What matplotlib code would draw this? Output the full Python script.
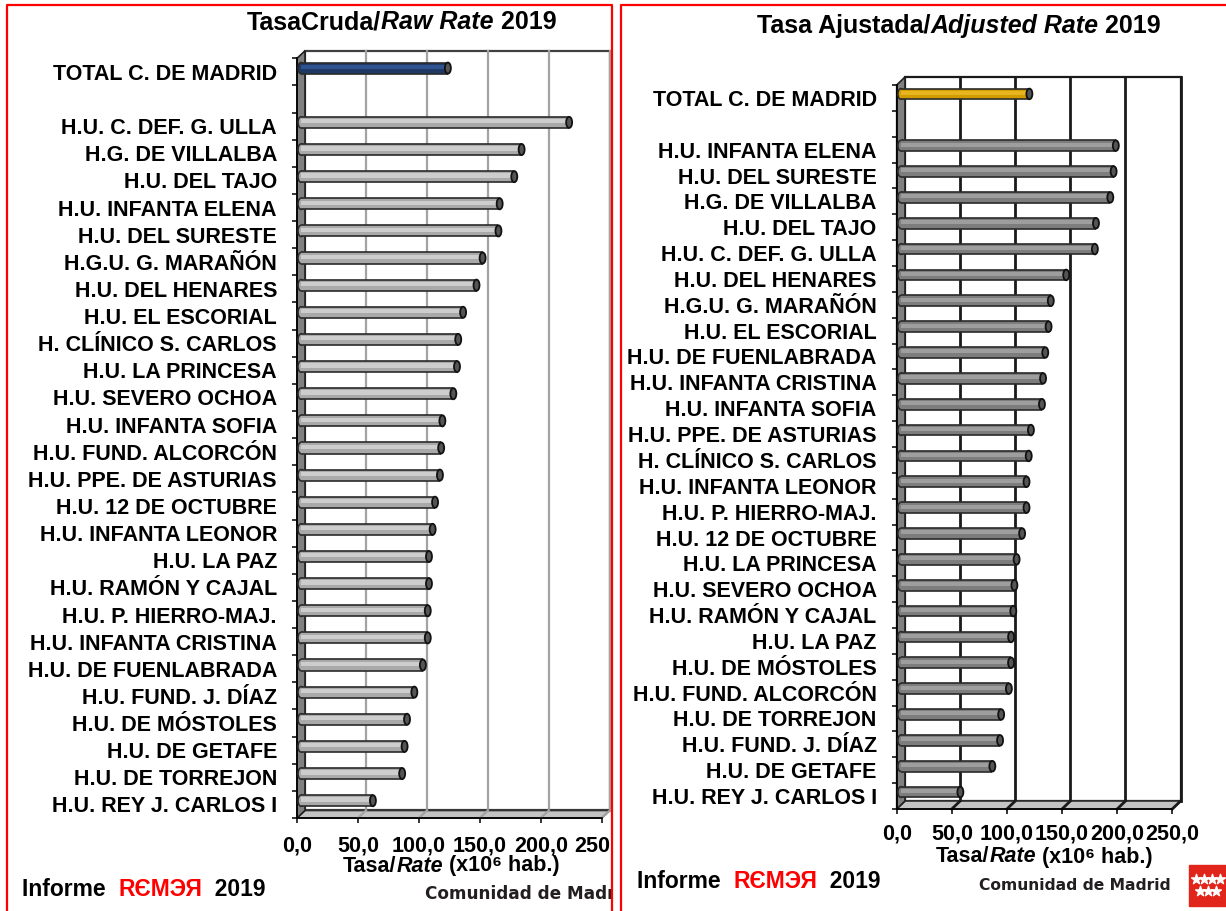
import numpy as np
import matplotlib
matplotlib.use("Agg")
import matplotlib.pyplot as plt
from matplotlib.patches import Rectangle, Polygon, Ellipse
from matplotlib.lines import Line2D
from matplotlib.transforms import Bbox, TransformedBbox

# Data (rate x10^6 inhabitants)
raw_labels = ["H.U. C. DEF. G. ULLA", "H.G. DE VILLALBA", "H.U. DEL TAJO", "H.U. INFANTA ELENA",
              "H.U. DEL SURESTE", "H.G.U. G. MARAÑÓN", "H.U. DEL HENARES", "H.U. EL ESCORIAL",
              "H. CLÍNICO S. CARLOS", "H.U. LA PRINCESA", "H.U. SEVERO OCHOA", "H.U. INFANTA SOFIA",
              "H.U. FUND. ALCORCÓN", "H.U. PPE. DE ASTURIAS", "H.U. 12 DE OCTUBRE", "H.U. INFANTA LEONOR",
              "H.U. LA PAZ", "H.U. RAMÓN Y CAJAL", "H.U. P. HIERRO-MAJ.", "H.U. INFANTA CRISTINA",
              "H.U. DE FUENLABRADA", "H.U. FUND. J. DÍAZ", "H.U. DE MÓSTOLES", "H.U. DE GETAFE",
              "H.U. DE TORREJON", "H.U. REY J. CARLOS I"]
raw_values = [220, 181, 175, 163, 162, 149, 144, 133, 129, 128, 125, 116, 115, 114, 110, 108,
              105, 105, 104, 104, 100, 93, 87, 85, 83, 59]
raw_total = 120.5

adj_labels = ["H.U. INFANTA ELENA", "H.U. DEL SURESTE", "H.G. DE VILLALBA", "H.U. DEL TAJO",
              "H.U. C. DEF. G. ULLA", "H.U. DEL HENARES", "H.G.U. G. MARAÑÓN", "H.U. EL ESCORIAL",
              "H.U. DE FUENLABRADA", "H.U. INFANTA CRISTINA", "H.U. INFANTA SOFIA", "H.U. PPE. DE ASTURIAS",
              "H. CLÍNICO S. CARLOS", "H.U. INFANTA LEONOR", "H.U. P. HIERRO-MAJ.", "H.U. 12 DE OCTUBRE",
              "H.U. LA PRINCESA", "H.U. SEVERO OCHOA", "H.U. RAMÓN Y CAJAL", "H.U. LA PAZ",
              "H.U. DE MÓSTOLES", "H.U. FUND. ALCORCÓN", "H.U. DE TORREJON", "H.U. FUND. J. DÍAZ",
              "H.U. DE GETAFE", "H.U. REY J. CARLOS I"]
adj_values = [195, 193, 190, 177, 176, 150, 136, 134, 131, 129, 128, 118, 116, 114, 114, 110,
              105, 103, 102, 100, 100, 98, 91, 90, 83, 54]
adj_total = 116.6

total_label = "TOTAL C. DE MADRID"
xticks = [0, 50, 100, 150, 200, 250]
xtick_labels = ["0,0", "50,0", "100,0", "150,0", "200,0", "250,0"]

W, H = 1226, 911
plt.rcParams['font.family'] = ['Liberation Sans', 'DejaVu Sans']
plt.rcParams['font.weight'] = 'bold'

fig = plt.figure(figsize=(W / 100, H / 100), dpi=100)


def fig_rect(l, t, r, b):
    return [l / W, 1 - b / H, (r - l) / W, (b - t) / H]


# full-figure layer for free text (pixel coordinates)
bg = fig.add_axes([0, 0, 1, 1])
bg.set_xlim(0, W)
bg.set_ylim(H, 0)
bg.axis('off')

left_clip = TransformedBbox(Bbox([[7 / W, 0], [612 / W, 1]]), fig.transFigure)


def draw_panel(rect, depth, labels, values, total, total_cols, bar_cols, grid_col, grid_lw,
               wall_edge, floor_col, tick_pad, clip=None):
    ax = fig.add_axes(fig_rect(*rect))
    ax.patch.set_visible(False)
    n = len(labels) + 2
    ax.set_xlim(0, 250)
    ax.set_ylim(n, 0)

    px_x = (rect[2] - rect[0]) / 250
    px_y = (rect[3] - rect[1]) / n
    dx = depth[0] / px_x
    dy = depth[1] / px_y

    # back wall, grid, floor, side wall
    ax.add_patch(Rectangle((dx, -dy), 250, n, facecolor='white', edgecolor=wall_edge,
                           lw=1.6, zorder=0.5))
    for v in xticks[1:]:
        ax.plot([v + dx, v + dx], [-dy, n - dy], color=grid_col, lw=grid_lw, zorder=0.6)
    ax.add_patch(Polygon([(0, n), (250, n), (250 + dx, n - dy), (dx, n - dy)],
                         facecolor=floor_col, edgecolor='#303030', lw=1.2, zorder=0.7))
    for v in xticks[1:]:
        ax.plot([v, v + dx], [n, n - dy], color=grid_col, lw=grid_lw, zorder=0.75)
    ax.add_patch(Polygon([(0, 0), (0, n), (dx, n - dy), (dx, -dy)],
                         facecolor='#808080', edgecolor='#202020', lw=1.2, zorder=0.8))

    # cylinders
    x0 = dx / 2
    h = 0.41
    cap_w = 6 / px_x
    ys = np.arange(2, n) + 0.5 - dy / 2
    vals = np.array(values, dtype=float)
    yt = 0.5 - dy / 2

    def cylinders(y, v, base, light):
        y = np.atleast_1d(y)
        v = np.atleast_1d(v)
        for yi in y:
            ax.add_patch(Ellipse((x0, yi), cap_w, h, facecolor=base, edgecolor='#2a2a2a',
                                 lw=1.2, zorder=3))
        ax.barh(y, v, left=x0, height=h, color=base, edgecolor='none', zorder=3.1)
        ax.barh(y - 0.1 * h, v, left=x0, height=0.38 * h, color=light, edgecolor='none', zorder=3.2)
        ax.hlines(y - h / 2, x0, x0 + v, color='#2a2a2a', lw=1.2, zorder=3.3)
        ax.hlines(y + h / 2, x0, x0 + v, color='#2a2a2a', lw=1.2, zorder=3.3)
        for yi, vi in zip(y, v):
            ax.add_patch(Ellipse((x0 + vi, yi), cap_w, h, facecolor='#555555',
                                 edgecolor='#111111', lw=1.3, zorder=3.4))

    cylinders(yt, total, *total_cols)
    cylinders(ys, vals, *bar_cols)

    # axes / ticks
    ax.set_yticks(np.arange(n) + 0.5, [total_label, ""] + labels)
    ax.set_yticks(np.arange(n + 1), minor=True)
    ax.tick_params(axis='y', which='major', length=0, pad=14.4, labelsize=15.5)
    ax.tick_params(axis='y', which='minor', length=3.6, width=1.1, color='black', direction='out')
    ax.set_xticks(xticks, xtick_labels)
    ax.tick_params(axis='x', length=3.6, width=1.1, pad=tick_pad, labelsize=15.5)
    for s in ['top', 'right']:
        ax.spines[s].set_visible(False)
    for s in ['left', 'bottom']:
        ax.spines[s].set_color('black')
        ax.spines[s].set_linewidth(1.2)

    for art in ax.patches + ax.lines + ax.collections:
        if clip is None:
            art.set_clip_on(False)
        else:
            art.set_clip_box(clip)
            art.set_clip_on(True)
    if clip is not None:
        for tk in ax.xaxis.get_major_ticks():
            tk.label1.set_clip_box(clip)
            tk.label1.set_clip_on(True)
    return ax


draw_panel((297, 58.3, 601.7, 818), (8, 7.5), raw_labels, raw_values, raw_total,
           ('#1f3864', '#2f5290'), ('#a9a9a9', '#cdcdcd'), '#a3a3a3', 1.6, '#404040',
           '#c4c4c4', 9, clip=left_clip)
draw_panel((896.7, 85, 1172.3, 809), (8.3, 8), adj_labels, adj_values, adj_total,
           ('#d19c00', '#e8b520'), ('#7d7d7d', '#9e9e9e'), '#1a1a1a', 2.0, '#1a1a1a',
           '#c4c4c4', 7)


def rich(x, y, parts, size, clip=None):
    prev = None
    for s, style, color in parts:
        if prev is None:
            t = bg.text(x, y, s, fontsize=size, va='center', ha='left', color=color, style=style)
        else:
            t = bg.annotate(s, xy=(1, 0), xycoords=prev, va='bottom', ha='left',
                            fontsize=size, color=color, style=style)
        if clip is not None:
            t.set_clip_box(clip)
            t.set_clip_on(True)
        prev = t


# titles
rich(247, 22, [("TasaCruda/", 'normal', 'black'), ("Raw Rate", 'italic', 'black'),
               (" 2019", 'normal', 'black')], 18)
rich(757, 26, [("Tasa Ajustada/", 'normal', 'black'), ("Adjusted Rate", 'italic', 'black'),
               (" 2019", 'normal', 'black')], 18)

# axis titles
xlab = [("Tasa/", 'normal', 'black'), ("Rate", 'italic', 'black'),
        (" (x10\u2076 hab.)", 'normal', 'black')]
rich(343, 866, xlab, 15.5)
rich(936, 857, xlab, 15.5)

# footers
foot = [("Informe  ", 'normal', 'black'), ("RЄMЭЯ", 'normal', '#ff0000'),
        ("  2019", 'normal', 'black')]
rich(22, 890, foot, 16.5, clip=left_clip)
rich(637, 882, foot, 16.5)

for x, y, size, clip in [(425, 894, 12.2, left_clip), (979, 886, 11.2, None)]:
    t = bg.text(x, y, "Comunidad de Madrid", family='DejaVu Sans', fontweight='bold',
                fontsize=size, color='#231f20', va='center', ha='left')
    if clip is not None:
        t.set_clip_box(clip)
        t.set_clip_on(True)

# Comunidad de Madrid logo
bg.add_patch(Rectangle((1189, 865), 40, 41, color='#e1251b'))
bg.scatter([1196, 1204, 1212, 1220], [879] * 4, marker='*', s=55, color='white', zorder=5)
bg.scatter([1200, 1208, 1216], [891] * 3, marker='*', s=55, color='white', zorder=5)

# red panel frames
for xs, ys in [([7, 7, 612, 612], [911, 5, 5, 911]), ([621, 621, 1226], [911, 5, 5])]:
    fig.add_artist(Line2D([x / W for x in xs], [1 - y / H for y in ys], color='#ff0000',
                          lw=1.6, transform=fig.transFigure))

fig.savefig("out.png", dpi=100)
